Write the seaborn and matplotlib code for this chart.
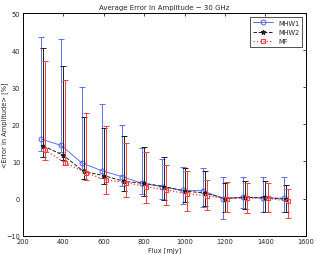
import seaborn as sns
import matplotlib.pyplot as plt
import numpy as np

# datos
flux = np.array([300, 400, 500, 600, 700, 800, 900, 1000, 1100, 1200, 1300, 1400, 1500])

mhw1 = [16.0, 14.3, 9.6, 7.5, 5.9, 4.1, 3.2, 2.2, 2.1, 0.0, 0.4, 0.1, 0.1]
mhw1_top = [43.5, 43.0, 30.0, 25.6, 19.8, 13.5, 10.6, 8.4, 8.1, 5.7, 5.8, 5.7, 5.7]
mhw1_bot = [12.7, 12.5, 8.0, 5.5, 3.4, 1.2, -0.2, -1.4, -2.2, -5.4, -2.6, -3.7, -3.6]

mhw2 = [14.2, 11.6, 7.3, 6.2, 4.6, 4.1, 3.2, 2.0, 1.5, 0.0, 0.3, 0.3, -0.2]
mhw2_top = [40.5, 35.8, 21.9, 18.9, 16.9, 14.0, 11.3, 8.3, 7.4, 4.3, 4.6, 4.6, 3.6]
mhw2_bot = [11.1, 10.3, 5.2, 3.9, 2.1, 0.7, -0.5, -1.0, -2.0, -3.5, -2.7, -3.5, -3.7]

mf = [13.0, 9.6, 7.0, 5.0, 4.3, 3.2, 2.3, 1.3, 0.7, 0.0, 0.1, 0.1, -0.7]
mf_top = [37.0, 32.0, 23.1, 19.6, 14.9, 12.6, 9.1, 7.3, 5.0, 4.5, 4.2, 4.1, 2.7]
mf_bot = [10.4, 9.0, 5.0, 1.2, 0.3, -1.1, -1.8, -3.3, -3.1, -3.6, -3.8, -3.5, -5.3]

sns.set_style("white")
plt.rcParams['font.family'] = ['DejaVu Sans']

fig = plt.figure(figsize=(3.16, 2.55), dpi=100)
ax = fig.add_axes([0.073, 0.072, 0.895, 0.873])

series = [
    ("MHW1", mhw1, mhw1_top, mhw1_bot, -10, "#5f70ee", "-", "o", "none", 3.5, 0.7),
    ("MHW2", mhw2, mhw2_top, mhw2_bot, 0, "#202020", "--", "*", "#202020", 3.5, 0.7),
    ("MF", mf, mf_top, mf_bot, 10, "#f04040", ":", "s", "none", 3.2, 0.9),
]

for name, y, top, bot, dx, col, ls, mk, fc, ms, lw in series:
    y = np.array(y)
    err = [y - np.array(bot), np.array(top) - y]
    ax.errorbar(flux + dx, y, yerr=err, color=col, ls="none", marker=None,
                elinewidth=0.7, capsize=2.5, capthick=0.7)
    ax.plot(flux + dx, y, color=col, ls=ls, lw=lw, marker=mk, ms=ms,
            mfc=fc, mec=col, mew=0.8, label=name)

ax.set_xlim(200, 1600)
ax.set_ylim(-10, 50)
ax.set_xticks(range(200, 1601, 200))
ax.set_yticks(range(-10, 51, 10))
ax.tick_params(direction="in", top=True, right=True, labelsize=4.8, length=2.5,
               width=0.6, pad=2)
for s in ax.spines.values():
    s.set_linewidth(0.7)
    s.set_color("black")

ax.set_title("Average Error in Amplitude \u2212 30 GHz", fontsize=5, pad=3)
ax.set_xlabel("Flux [mJy]", fontsize=4.8, labelpad=1)
ax.set_ylabel("<Error in Amplitude> [%]", fontsize=4.8)
ax.yaxis.set_label_coords(-0.055, 0.5)

leg = ax.legend(loc="upper right", fontsize=4.8, frameon=True, fancybox=False,
                edgecolor="black", borderaxespad=0.6, handlelength=3)
leg.get_frame().set_linewidth(0.6)

plt.savefig("out.png", dpi=100)
